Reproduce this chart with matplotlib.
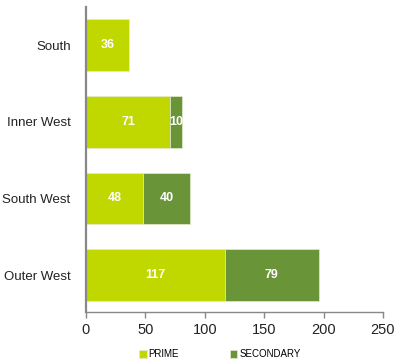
import matplotlib.pyplot as plt
import numpy as np

plt.rcParams["font.family"] = ["Liberation Sans", "DejaVu Sans"]

REGIONS = ["South", "Inner West", "South West", "Outer West"]
PRIME = [36, 71, 48, 117]
SECONDARY = [0, 10, 40, 79]
SERIES = ["PRIME", "SECONDARY"]
COLORS = ["#C0D800", "#6A9438"]
XTICKS = [0, 50, 100, 150, 200, 250]


def main():
    fig = plt.figure(figsize=(3.96, 3.59), dpi=100)
    ax = fig.add_axes([0.217, 0.131, 0.75, 0.85])

    y = np.arange(len(REGIONS))
    left = np.zeros(len(REGIONS))
    handles = []
    for vals, name, color in zip([PRIME, SECONDARY], SERIES, COLORS):
        vals = np.array(vals, dtype=float)
        bars = ax.barh(y, vals, left=left, height=0.67, color=color,
                       edgecolor="#E4EBD0", linewidth=0.5, label=name)
        handles.append(bars)
        for yi, v, l in zip(y, vals, left):
            if v > 0:
                ax.text(l + v / 2, yi, f"{v:.0f}", ha="center", va="center",
                        color="white", fontweight="bold", fontsize=9)
        left += vals

    ax.set_xlim(0, 250)
    ax.set_ylim(3.48, -0.5)
    ax.set_xticks(XTICKS)
    ax.set_yticks(y)
    ax.set_yticklabels(REGIONS, fontsize=9.5, color="#222222")
    ax.tick_params(axis="y", length=0, pad=11)
    ax.tick_params(axis="x", length=4, width=1, color="#888888",
                   labelsize=10.5, labelcolor="#222222", pad=4)
    for s in ("top", "right"):
        ax.spines[s].set_visible(False)
    ax.spines["left"].set_color("#888888")
    ax.spines["left"].set_linewidth(1.6)
    ax.spines["bottom"].set_color("#888888")
    ax.spines["bottom"].set_linewidth(1)

    fig.legend(handles=handles, labels=SERIES, loc="lower center",
               bbox_to_anchor=(0.555, -0.025), ncol=2, frameon=False,
               fontsize=7, handlelength=0.8, handleheight=0.8,
               handletextpad=0.2, columnspacing=5.2)

    fig.savefig("out.png", dpi=100)


if __name__ == "__main__":
    main()
